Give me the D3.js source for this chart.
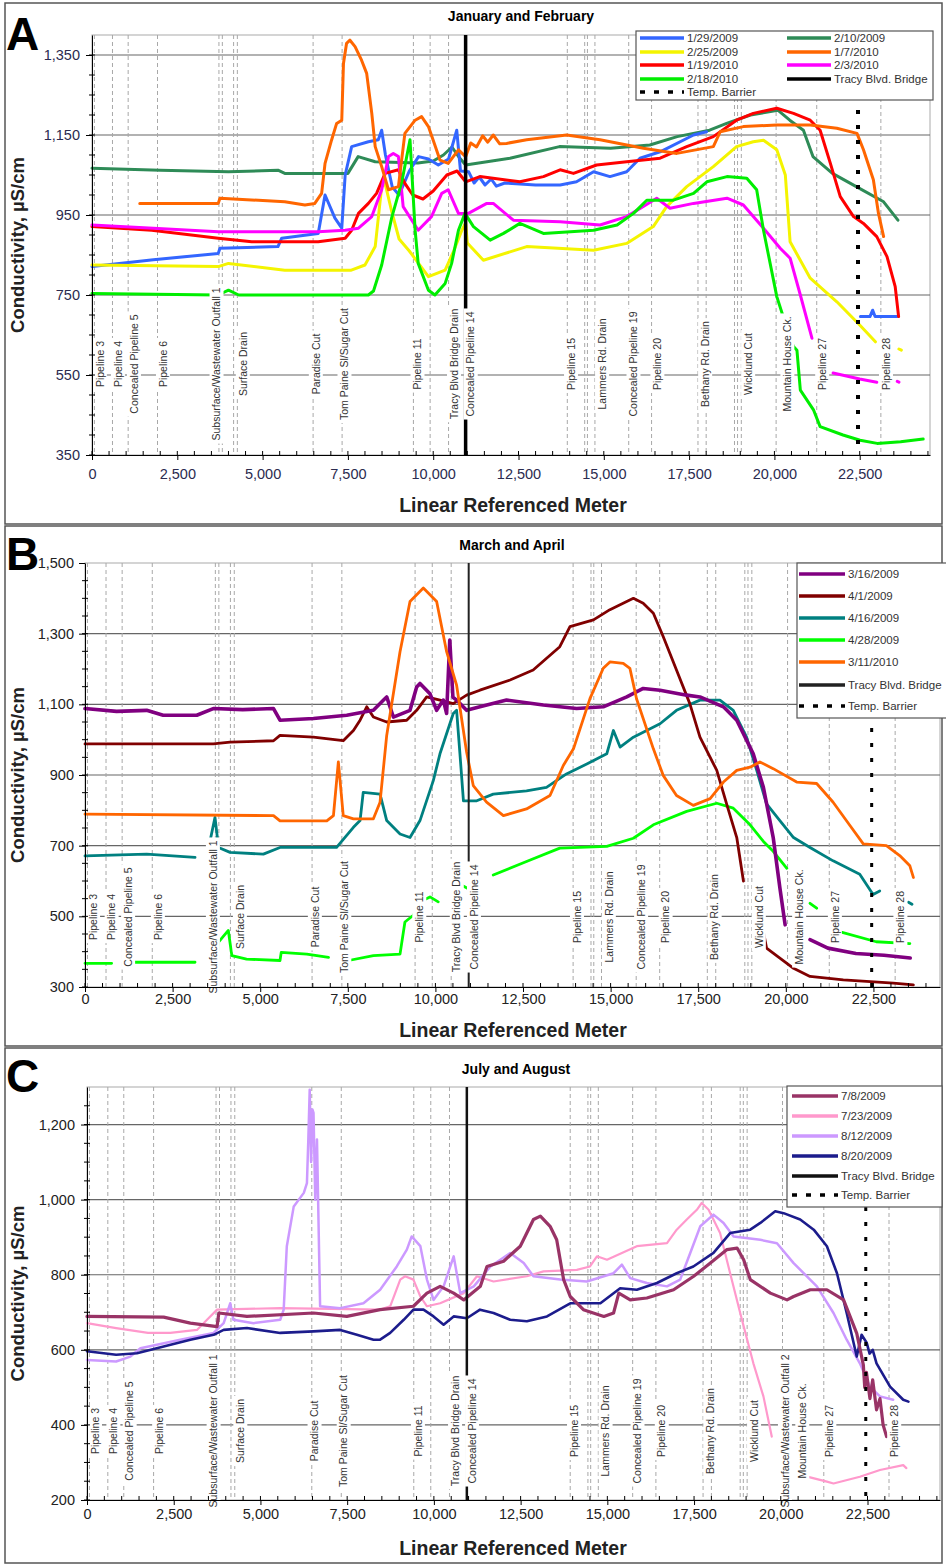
<!DOCTYPE html>
<html>
<head>
<meta charset="utf-8">
<script src="https://d3js.org/d3.v7.min.js"></script>
<style>
  body { margin: 0; background: #fff; }
  svg text { font-family: "Liberation Sans", Arial, sans-serif; }
</style>
</head>
<body>
<div id="chart"></div>
<script>

// ---------- shared axis / landmark values ----------
var xTicks = [0, 2500, 5000, 7500, 10000, 12500, 15000, 17500, 20000, 22500];
var yTicksA = [350, 550, 750, 950, 1150, 1350];
var yTicksB = [300, 500, 700, 900, 1100, 1300, 1500];
var yTicksC = [200, 400, 600, 800, 1000, 1200];

var landmarkLines = [70, 600, 1060, 1920, 3720, 3820, 4150, 4260, 6480, 7330, 9420, 9910, 10450,
    13930, 14440, 14520, 14740, 15730, 16400, 17760, 18000, 18830, 18920, 19030, 20050, 21240, 23120];
var landmarkNames = ["Pipeline 3", "Pipeline 4", "Concealed Pipeline 5", "Pipeline 6",
    "Subsurface/Wastewater Outfall 1", "Surface Drain", "Paradise Cut", "Tom Paine Sl/Sugar Cut",
    "Pipeline 11", "Tracy Blvd Bridge Drain", "Concealed Pipeline 14", "Pipeline 15", "Lammers Rd. Drain",
    "Concealed Pipeline 19", "Pipeline 20", "Bethany Rd. Drain", "Wicklund Cut", "Mountain House Ck.",
    "Pipeline 27", "Pipeline 28"];
var landmarkLabelAt = [230, 760, 1230, 2080, 3650, 4420, 6560, 7400, 9540, 10610, 11100, 14040, 14950,
    15870, 16570, 17970, 19230, 20380, 21400, 23270];
var bridgeAt = 10950;
var barrierAt = 22450;

// ---------- A: January and February ----------
var a_0129_2009 = [[0,821],[1800,838],[3700,854],[3750,867],[5450,871],[5560,892],[6630,904],[6830,1000],[7120,942],[7320,917],[7420,1050],[7610,1121],[8100,1133],[8390,1138],[8490,1162],[8600,1100],[8800,1020],[9000,1000],[9300,1060],[9570,1096],[9860,1090],[10150,1075],[10450,1090],[10690,1162],[10800,1060],[11040,1058],[11200,1030],[11350,1045],[11520,1025],[11700,1040],[11850,1022],[12100,1030],[13000,1025],[13720,1025],[14200,1033],[14700,1058],[15180,1046],[15670,1058],[16060,1092],[16650,1108],[17630,1150],[18010,1158], null, [22520,696],[22800,696],[22880,712],[22950,696],[23590,696]];
var a_0210_2009 = [[0,1067],[2000,1062],[4000,1058],[5450,1062],[5650,1054],[7500,1054],[7800,1096],[8300,1083],[9550,1080],[10000,1085],[10300,1100],[10550,1120],[10750,1095],[10950,1075],[12250,1092],[13700,1121],[15200,1117],[16350,1125],[17150,1146],[18100,1162],[18600,1179],[19300,1200],[20100,1212],[20450,1187],[20850,1162],[21130,1096],[21700,1054],[22400,1021],[23200,983],[23620,937]];
var a_0225_2009 = [[0,825],[3700,821],[4000,829],[5650,812],[7600,812],[8000,825],[8300,871],[8490,1021],[8590,1029],[8780,960],[9000,890],[9300,860],[9860,796],[10350,812],[10600,860],[10840,912],[10950,930],[11000,880],[11470,837],[12740,871],[14700,862],[15670,879],[16450,921],[16840,971],[17430,1021],[18210,1071],[18890,1121],[19380,1133],[19680,1137],[20070,1113],[20320,1050],[20460,883],[21050,792],[21830,733],[22500,675],[22960,633], null, [23650,615],[23720,612]];
var a_0107_2010 = [[1400,979],[3700,979],[3750,992],[5650,983],[6240,975],[6530,979],[6730,1004],[6830,1079],[7020,1137],[7170,1179],[7320,1187],[7370,1329],[7460,1379],[7560,1387],[7710,1371],[7900,1337],[8050,1304],[8200,1204],[8300,1121],[8490,1071],[8690,1013],[8980,1021],[9170,1154],[9470,1187],[9660,1196],[9860,1171],[10000,1137],[10200,1087],[10440,1079],[10740,1113],[10950,1096],[11100,1130],[11270,1120],[11450,1148],[11600,1132],[11760,1150],[11950,1128],[12150,1129],[12740,1138],[13910,1150],[14890,1138],[16160,1117],[17140,1104],[18210,1121],[18410,1158],[19090,1171],[20070,1175],[21050,1175],[21830,1167],[22420,1154],[22610,1113],[22900,1038],[23050,954],[23200,896]];
var a_0119_2010 = [[0,921],[1750,912],[3700,892],[4680,883],[6630,883],[7420,892],[7610,912],[7810,954],[8100,979],[8340,1004],[8590,1054],[8980,1063],[9170,1029],[9400,1000],[9700,990],[10000,1010],[10400,1050],[10700,1060],[10950,1033],[11370,1046],[12540,1033],[13230,1046],[13720,1063],[14110,1054],[14790,1075],[15670,1083],[16650,1092],[17430,1121],[18210,1146],[18890,1187],[19380,1204],[20070,1217],[20560,1204],[21050,1187],[21340,1162],[21640,1079],[21930,996],[22320,946],[22610,929],[23000,896],[23300,846],[23540,771],[23640,696]];
var a_0203_2010 = [[0,925],[1800,917],[3700,908],[6630,908],[7420,912],[7810,917],[8200,946],[8490,1013],[8690,1096],[8830,1104],[8980,1096],[9120,971],[9560,912],[9950,946],[10250,1004],[10440,1013],[10740,954],[11030,954],[11570,979],[11760,979],[12350,937],[13720,933],[14890,925],[15670,946],[16550,992],[16940,967],[17630,979],[18610,992],[19090,975],[19680,917],[20170,867],[20460,842],[20760,750],[21100,642], null, [21720,555],[22500,540],[23000,532], null, [23600,534],[23650,532]];
var a_0218_2010 = [[0,754],[3700,750],[4000,762],[4300,750],[8100,750],[8250,760],[8490,825],[8780,942],[9080,1033],[9320,1138],[9470,912],[9560,829],[9860,762],[10050,750],[10350,779],[10540,829],[10740,912],[10930,954],[11180,921],[11670,887],[12060,904],[12540,929],[13230,904],[14700,912],[15390,925],[15870,954],[16260,987],[17040,987],[17630,1004],[18020,1033],[18610,1046],[19190,1042],[19480,1013],[19680,912],[20070,746],[20460,642],[20560,621],[20660,612],[20760,512],[21150,462],[21340,421],[22010,400],[22510,387],[23010,379],[23700,383],[24360,390]];

// ---------- B: March and April ----------
var b_0316_2009 = [[0,1088],[900,1080],[1760,1083],[2230,1069],[3190,1069],[3660,1088],[4500,1085],[5380,1088],[5565,1055],[6520,1060],[7470,1069],[8230,1083],[8520,1112],[8610,1121],[8800,1064],[9275,1083],[9465,1149],[9560,1159],[9845,1130],[10035,1083],[10225,1112],[10320,1074],[10410,1282],[10500,1120],[10605,1112],[10890,1083],[11270,1093],[12030,1112],[13080,1098],[14030,1088],[14790,1093],[15460,1121],[15930,1145],[16410,1140],[17170,1126],[17550,1121],[18220,1093],[18600,1055],[19070,960],[19360,865],[19640,723],[19830,581],[19980,476], null, [20690,434],[21200,410],[22000,395],[22800,390],[23550,382]];
var b_0401_2009 = [[0,988],[3660,988],[4140,993],[5380,997],[5565,1012],[6520,1007],[7370,997],[7660,1026],[7850,1055],[8040,1093],[8230,1064],[8610,1050],[9180,1055],[9465,1083],[9750,1121],[10130,1112],[10510,1102],[10890,1126],[11270,1140],[12130,1169],[12790,1197],[13550,1263],[13840,1320],[14510,1339],[14980,1368],[15460,1391],[15650,1400],[15930,1386],[16220,1358],[16500,1292],[16880,1197],[17260,1102],[17550,1007],[18030,913],[18310,818],[18600,723],[18790,600], null, [19360,457],[19450,410],[19830,382],[20220,353],[20690,330],[21640,320],[23070,311],[23640,306]];
var b_0416_2009 = [[0,671],[1760,676],[3140,667], null, [3570,714],[3710,780],[3810,695],[4140,681],[5090,676],[5565,695],[7180,695],[7660,752],[7850,771],[7940,851],[8420,846],[8610,771],[8990,733],[9275,723],[9560,771],[9940,884],[10130,960],[10510,1074],[10605,1083],[10700,960],[10800,827],[11180,827],[11650,846],[12600,855],[13170,865],[13740,903],[14320,931],[14890,960],[15080,1026],[15270,979],[15650,1007],[16410,1045],[16880,1083],[17550,1112],[18120,1112],[18500,1083],[18880,1007],[19170,913],[19450,818],[19830,771],[20220,723],[20690,695],[21350,657],[22110,619],[22490,562],[22680,572], null, [23500,540],[23600,534]];
var b_0428_2009 = [[0,367],[760,367], null, [1380,370],[3140,370], null, [3760,372],[3810,427],[4090,460],[4190,389],[4610,379],[5565,375],[5600,398],[6330,393],[6950,384], null, [7520,375],[8230,389],[8990,393],[9130,484],[9370,503],[9560,541],[9845,555],[10080,541], null, [10750,588],[10900,580], null, [11650,617],[12600,655],[13550,693],[14890,698],[15650,721],[16220,759],[17170,797],[18030,820],[18500,806],[18980,759],[19360,712],[19640,684],[20030,636], null, [20690,537],[20880,523], null, [21530,457],[22580,428],[23540,423]];
var b_0311_2010 = [[0,789],[5380,785],[5565,770],[6900,770],[7090,785],[7230,937],[7370,785],[7660,776],[8230,776],[8420,823],[8610,1012],[8990,1249],[9275,1391],[9655,1429],[10035,1391],[10320,1249],[10605,1154],[10890,965],[11080,870],[11460,823],[11940,785],[12600,804],[13270,842],[13650,927],[13940,974],[14410,1116],[14790,1202],[14980,1220],[15360,1216],[15550,1202],[15740,1116],[16220,974],[16500,899],[16880,842],[17360,814],[17840,833],[18220,880],[18600,913],[18980,922],[19260,937],[19640,918],[20310,880],[20880,876],[21350,823],[21830,757],[22210,705],[22870,700],[23250,672],[23540,643],[23640,610]];

// ---------- C: July and August ----------
var c_0708_2009 = [[0,689],[2210,687],[2980,671],[3750,662],[3800,698],[4610,689],[6530,698],[7490,689],[8450,707],[9410,716],[9800,751],[10180,769],[10570,751],[10860,733],[11340,769],[11530,822],[12010,836],[12490,876],[12870,947],[13070,956],[13350,929],[13540,893],[13740,787],[13930,742],[14310,707],[14900,689],[15180,698],[15330,751],[15660,733],[16140,738],[16910,760],[17490,796],[17970,831],[18450,867],[18740,871],[18930,840],[19120,787],[19700,751],[20180,733],[20370,742],[20850,760],[21330,760],[21810,733],[22190,644],[22380,560],[22420,500],[22470,540],[22570,470],[22650,520],[22760,440],[22860,470],[22950,400],[23050,369]];
var c_0723_2009 = [[0,671],[840,658],[1760,645],[2400,645],[3170,653],[3460,680],[3750,707],[5570,711],[8450,707],[8740,716],[9030,787],[9170,796],[9410,787],[9610,742],[9800,716],[10180,724],[10860,751],[11240,796],[11720,782],[12680,796],[13160,809],[14120,813],[14500,822],[14700,849],[14990,840],[15850,876],[16720,884],[17000,920],[17290,947],[17580,973],[17720,991],[17920,973],[18250,911],[18540,804],[18830,698],[19210,564],[19500,476],[19740,369], null, [20560,267],[21330,249],[21520,244],[22280,262],[22860,280],[23530,293],[23620,285]];
var c_0812_2009 = [[0,573],[840,569],[1250,582],[1540,604],[2690,627],[3650,645],[3940,671],[4130,724],[4220,680],[4800,671],[5570,680],[5670,707],[5760,876],[5960,982],[6250,1018],[6340,1044],[6380,1160],[6420,1293],[6460,1100],[6500,1240],[6530,1231],[6580,1000],[6630,1160],[6720,716],[7300,711],[7970,724],[8450,760],[8930,822],[9220,867],[9360,902],[9610,876],[9800,787],[9990,733],[10280,769],[10570,849],[10760,751],[11150,769],[11630,822],[12200,858],[12590,831],[12870,796],[13640,787],[14410,782],[15180,804],[15420,827],[15660,791],[16140,778],[16720,769],[17100,787],[17390,858],[17680,929],[18060,960],[18350,938],[18640,902],[19410,893],[19890,884],[20370,831],[21040,769],[21520,698],[21900,627],[22280,564],[22570,502],[22860,476],[23240,467]];
var c_0820_2009 = [[0,596],[840,587],[1440,591],[2210,609],[2980,627],[3650,640],[3940,653],[4610,658],[5570,645],[6530,649],[7300,653],[7780,640],[8260,627],[8450,627],[8740,645],[9130,680],[9410,707],[9700,707],[9990,689],[10280,667],[10570,689],[10950,684],[11330,707],[11720,698],[12200,680],[12680,676],[13260,689],[13930,724],[14800,724],[15370,764],[15850,760],[16430,778],[17000,804],[17480,822],[18060,858],[18540,911],[19120,920],[19410,938],[19840,969],[20080,964],[20560,947],[20950,920],[21330,876],[21620,804],[21900,698],[22190,582],[22330,640],[22480,618],[22560,590],[22650,600],[22760,564],[23150,502],[23530,467],[23680,462]];

// ---------- drawing ----------
var svg = d3.select("#chart").append("svg")
    .attr("width", 946).attr("height", 1566)
    .style("background", "#fff");

var bridgeItem = { name: "Tracy Blvd. Bridge", color: "#000" };
var barrierItem = { name: "Temp. Barrier", color: "#000", dash: "5,9" };

var labels = landmarkNames.map(function (n, i) { return [n, landmarkLabelAt[i]]; });
var labelsC = labels.map(function (l) { return l[0] == "Mountain House Ck." ? [l[0], 20620] : l; })
    .concat([["Subsurface/Wastewater Outfall 2", 20120]]);

var panels = [
    {
        letter: "A", letterY: 50, title: "January and February", titleX: 521, titleY: 21,
        box: [5, 3, 937, 521], left: 92, right: 930, top: 35, bottom: 455, xMax: 24560,
        yDomain: [350, 1400], yTicks: yTicksA, xPad: 9, yPad: 6, xTitleY: 512, tickColor: "#2b2b4f",
        labels: labels, labelUp: 91, bridgeW: 3.5, bridgeColor: "#000", barrierW: 4,
        series: [
            { name: "2/10/2009", color: "#2e8b57", data: a_0210_2009 },
            { name: "1/29/2009", color: "#3366ff", data: a_0129_2009 },
            { name: "2/25/2009", color: "#f4f400", data: a_0225_2009 },
            { name: "1/19/2010", color: "#ff0000", data: a_0119_2010 },
            { name: "2/3/2010", color: "#ff00ff", data: a_0203_2010 },
            { name: "2/18/2010", color: "#00ee00", data: a_0218_2010 },
            { name: "1/7/2010", color: "#ff6600", data: a_0107_2010 }
        ],
        width: 3,
        legend: {
            x: 636, y: 31, w: 297, h: 69, cols: 2, colX: [640, 787], rowY: [38, 52, 65, 79, 92],
            swatch: 44, font: 11.5,
            order: ["1/29/2009", "2/10/2009", "2/25/2009", "1/7/2010", "1/19/2010", "2/3/2010", "2/18/2010", "bridge", "barrier"]
        }
    },
    {
        letter: "B", letterY: 570, title: "March and April", titleX: 512, titleY: 550,
        box: [5, 526, 937, 520], left: 85, right: 940, top: 563, bottom: 987, xMax: 24400,
        yDomain: [300, 1500], yTicks: yTicksB, xPad: 2, yPad: 5, xTitleY: 1037, tickColor: "#222",
        labels: labels, labelUp: 70, bridgeW: 2, bridgeColor: "#222", barrierW: 3,
        series: [
            { name: "4/28/2009", color: "#00ff00", data: b_0428_2009 },
            { name: "4/16/2009", color: "#008080", data: b_0416_2009 },
            { name: "4/1/2009", color: "#800000", data: b_0401_2009 },
            { name: "3/16/2009", color: "#800080", data: b_0316_2009, w: 3.6 },
            { name: "3/11/2010", color: "#ff6600", data: b_0311_2010 }
        ],
        width: 2.8,
        legend: {
            x: 797, y: 563, w: 150, h: 155, cols: 1, colX: [799], rowY: [574, 596, 618, 640, 662, 685, 706],
            swatch: 46, font: 11.5,
            order: ["3/16/2009", "4/1/2009", "4/16/2009", "4/28/2009", "3/11/2010", "bridge", "barrier"]
        }
    },
    {
        letter: "C", letterY: 1092, title: "July and August", titleX: 516, titleY: 1074,
        box: [5, 1048, 937, 515], left: 87, right: 940, top: 1087, bottom: 1500, xMax: 24590,
        yDomain: [200, 1300], yTicks: yTicksC, xPad: 4, yPad: 6, xTitleY: 1555, tickColor: "#222",
        labels: labelsC, labelUp: 69, bridgeW: 2.5, bridgeColor: "#111", barrierW: 3,
        series: [
            { name: "7/23/2009", color: "#ff99cc", data: c_0723_2009, w: 2.2 },
            { name: "8/12/2009", color: "#cc99ff", data: c_0812_2009, w: 2.5 },
            { name: "8/20/2009", color: "#1c1c8c", data: c_0820_2009, w: 2.6 },
            { name: "7/8/2009", color: "#993366", data: c_0708_2009, w: 3.2 }
        ],
        width: 2.6,
        legend: {
            x: 787, y: 1086, w: 155, h: 121, cols: 1, colX: [792], rowY: [1096, 1116, 1136, 1156, 1176, 1195],
            swatch: 46, font: 11.5,
            order: ["7/8/2009", "7/23/2009", "8/12/2009", "8/20/2009", "bridge", "barrier"]
        }
    }
];

panels.forEach(drawPanel);

function drawPanel(p) {
    var x = d3.scaleLinear().domain([0, p.xMax]).range([p.left, p.right]);
    var y = d3.scaleLinear().domain(p.yDomain).range([p.bottom, p.top]);
    var g = svg.append("g");

    // panel frame and plot frame
    g.append("rect").attr("x", p.box[0]).attr("y", p.box[1]).attr("width", p.box[2]).attr("height", p.box[3])
        .attr("fill", "none").attr("stroke", "#555").attr("stroke-width", 1.5);
    g.append("rect").attr("x", p.left).attr("y", p.top).attr("width", p.right - p.left).attr("height", p.bottom - p.top)
        .attr("fill", "none").attr("stroke", "#aaa");

    // horizontal gridlines
    g.selectAll(null).data(p.yTicks.filter(function (d) { return d > p.yDomain[0] && d < p.yDomain[1]; }))
        .enter().append("line")
        .attr("x1", p.left).attr("x2", p.right)
        .attr("y1", function (d) { return y(d); }).attr("y2", function (d) { return y(d); })
        .attr("stroke", "#666").attr("stroke-width", 1.2);

    // landmark dashed lines
    g.selectAll(null).data(landmarkLines).enter().append("line")
        .attr("x1", function (d) { return x(d); }).attr("x2", function (d) { return x(d); })
        .attr("y1", p.top).attr("y2", p.bottom)
        .attr("stroke", "#a8a8a8").attr("stroke-width", 1).attr("stroke-dasharray", "4,3");

    // series
    var line = d3.line()
        .defined(function (d) { return d !== null; })
        .x(function (d) { return x(d[0]); })
        .y(function (d) { return y(d[1]); });
    p.series.forEach(function (s) {
        g.append("path").datum(s.data).attr("d", line)
            .attr("fill", "none").attr("stroke", s.color).attr("stroke-width", s.w || p.width)
            .attr("stroke-linejoin", "round").attr("stroke-linecap", "round");
    });

    // bridge and barrier
    g.append("line").attr("x1", x(bridgeAt)).attr("x2", x(bridgeAt)).attr("y1", p.top).attr("y2", p.bottom)
        .attr("stroke", p.bridgeColor).attr("stroke-width", p.bridgeW);
    g.append("line").attr("x1", x(barrierAt)).attr("x2", x(barrierAt)).attr("y1", p.top).attr("y2", p.bottom)
        .attr("stroke", "#000").attr("stroke-width", p.barrierW).attr("stroke-dasharray", "4,11");

    // landmark labels with white boxes
    var yc = p.bottom - p.labelUp;
    p.labels.forEach(function (l) {
        var lg = g.append("g").attr("transform", "translate(" + x(l[1]) + "," + yc + ") rotate(-90)");
        var r = lg.append("rect").attr("fill", "#fff");
        var t = lg.append("text").attr("text-anchor", "middle").attr("dy", "0.35em")
            .attr("font-size", 10.5).attr("fill", "#333").text(l[0]);
        var len = t.node().getComputedTextLength();
        r.attr("x", -len / 2 - 3).attr("y", -7).attr("width", len + 6).attr("height", 14);
    });

    // axes
    var xa = g.append("g").attr("transform", "translate(0," + p.bottom + ")")
        .call(d3.axisBottom(x).tickValues(xTicks).tickFormat(d3.format(",")).tickSize(5).tickSizeOuter(0).tickPadding(p.xPad));
    xa.attr("font-family", "Liberation Sans, Arial, sans-serif").attr("font-size", 14.5);
    xa.selectAll("text").attr("fill", p.tickColor);
    var ya = g.append("g").attr("transform", "translate(" + p.left + ",0)")
        .call(d3.axisLeft(y).tickValues(p.yTicks).tickFormat(d3.format(",")).tickSize(6).tickSizeOuter(0).tickPadding(p.yPad));
    ya.attr("font-family", "Liberation Sans, Arial, sans-serif").attr("font-size", 14.5);
    ya.selectAll("text").attr("fill", p.tickColor);

    // minor ticks
    g.selectAll(null).data(d3.range(0, p.xMax, 500)).enter().append("line")
        .attr("x1", function (d) { return x(d); }).attr("x2", function (d) { return x(d); })
        .attr("y1", p.bottom - 4).attr("y2", p.bottom).attr("stroke", "#000");
    g.selectAll(null).data(d3.range(p.yDomain[0], p.yDomain[1], 50)).enter().append("line")
        .attr("x1", p.left - 3).attr("x2", p.left + 3)
        .attr("y1", function (d) { return y(d); }).attr("y2", function (d) { return y(d); })
        .attr("stroke", "#000");

    // legend
    var L = p.legend;
    g.append("rect").attr("x", L.x).attr("y", L.y).attr("width", L.w).attr("height", L.h)
        .attr("fill", "#fff").attr("stroke", "#555").attr("stroke-width", 1.2);
    L.order.forEach(function (key, i) {
        var it = key == "bridge" ? { name: bridgeItem.name, color: p.bridgeColor } :
            key == "barrier" ? barrierItem :
            p.series.filter(function (s) { return s.name == key; })[0];
        var col = i % L.cols, row = Math.floor(i / L.cols);
        var sx = L.colX[col], sy = L.rowY[row];
        g.append("line").attr("x1", sx).attr("x2", sx + L.swatch).attr("y1", sy).attr("y2", sy)
            .attr("stroke", it.color).attr("stroke-width", 3.5)
            .attr("stroke-dasharray", it.dash || null);
        g.append("text").attr("x", sx + L.swatch + 3).attr("y", sy).attr("dy", "0.35em")
            .attr("font-size", L.font).attr("fill", "#333").text(it.name);
    });

    // titles
    g.append("text").attr("x", p.box[0] + 1).attr("y", p.letterY).attr("font-size", 46)
        .attr("font-weight", "bold").text(p.letter);
    g.append("text").attr("x", p.titleX).attr("y", p.titleY).attr("text-anchor", "middle")
        .attr("font-size", 14).attr("font-weight", "bold").text(p.title);
    g.append("text").attr("x", 513).attr("y", p.xTitleY).attr("text-anchor", "middle")
        .attr("font-size", 19.5).attr("font-weight", "bold").attr("fill", "#222").text("Linear Referenced Meter");
    g.append("text").attr("transform", "translate(24," + ((p.top + p.bottom) / 2) + ") rotate(-90)")
        .attr("text-anchor", "middle").attr("font-size", 18.5).attr("font-weight", "bold").attr("fill", "#222")
        .text("Conductivity, \u00b5S/cm");
}

</script>
</body>
</html>
